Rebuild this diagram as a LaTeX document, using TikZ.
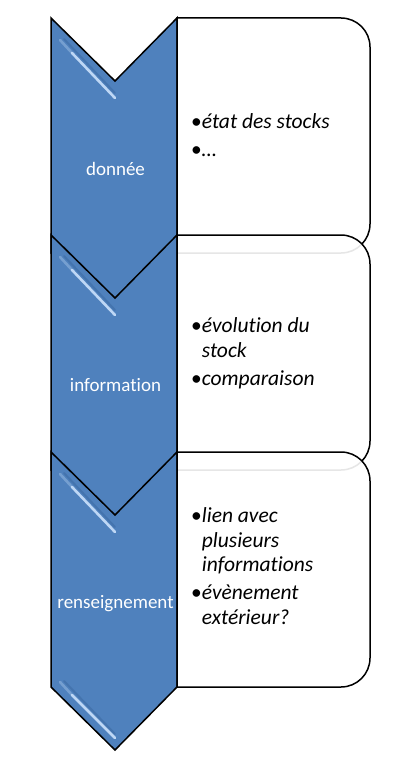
\documentclass[tikz,border=0pt]{standalone}
\usepackage{fontspec}
\setmainfont{Carlito}[Ligatures=NoCommon]
\definecolor{chev}{RGB}{79,129,189}
\definecolor{gloss}{RGB}{190,215,245}
\definecolor{glossdark}{RGB}{62,108,165}
\tikzset{
  chevshape/.style={fill=chev, draw=black, line width=1.5pt, line join=miter},
  boxshape/.style={fill=white, fill opacity=0.9, draw=black, line width=1.5pt},
  chevlabel/.style={text=white, font=\fontsize{19}{22}\selectfont, anchor=base, inner sep=0pt},
  boxtext/.style={anchor=west, inner sep=0pt, font=\fontsize{21.5}{24.5}\selectfont},
  glossline/.style={draw=gloss, line width=2.6pt, line cap=round},
  glossshade/.style={draw=glossdark, line width=2pt, line cap=round, draw opacity=0.6}
}
\newcommand{\mychev}[1]{%
  \path[chevshape] (51,#1) -- (115,#1+63) -- (177,#1) -- (177,#1+235)
        -- (115,#1+298) -- (51,#1+235) -- cycle;
  \draw[glossshade] (64,#1+21) -- (115,#1+75);
  \draw[glossline, draw opacity=0.35] (60,#1+22) -- (72,#1+35);
  \draw[glossline] (72,#1+35) -- (115,#1+80);
  \draw[glossshade] (64,#1+229) -- (115,#1+282);
  \draw[glossline, draw opacity=0.35] (60,#1+230) -- (72,#1+243);
  \draw[glossline] (72,#1+243) -- (115,#1+286);
}
\newcommand{\mybox}[1]{%
  \path[boxshape] (177,#1) -- (341,#1) .. controls (357,#1) and (370,#1+13) .. (370,#1+29)
        -- (370,#1+206) .. controls (370,#1+222) and (357,#1+235) .. (341,#1+235)
        -- (177,#1+235) -- cycle;
}
\begin{document}
\begin{tikzpicture}[x=1pt,y=-1pt]
\useasboundingbox[fill=white] (0,0) rectangle (419,776);
% block 1
\mychev{18}
\mybox{18}
\node[chevlabel] (l1) at (115.5,175) {donnée};
\node[boxtext] (t1) at (191,137.4) {\begin{tabular}{@{}l@{}l@{}}
  •&\textit{état des stocks}\\[3.5pt]
  •&\textit{…}
\end{tabular}};
% block 2
\mychev{235}
\mybox{235}
\node[chevlabel] (l2) at (115.5,391) {information};
\node[boxtext] (t2) at (191,354.1) {\begin{tabular}{@{}l@{}l@{}}
  •&\textit{évolution du}\\
   &\textit{stock}\\[3.5pt]
  •&\textit{comparaison}
\end{tabular}};
% block 3
\mychev{452}
\mybox{452}
\node[chevlabel] (l3) at (115.5,608) {renseignement};
\node[boxtext] (t3) at (191,568.6) {\begin{tabular}{@{}l@{}l@{}}
  •&\textit{lien avec}\\
   &\textit{plusieurs}\\
   &\textit{informations}\\[3.5pt]
  •&\textit{évènement}\\
   &\textit{extérieur?}
\end{tabular}};
\end{tikzpicture}
\end{document}
